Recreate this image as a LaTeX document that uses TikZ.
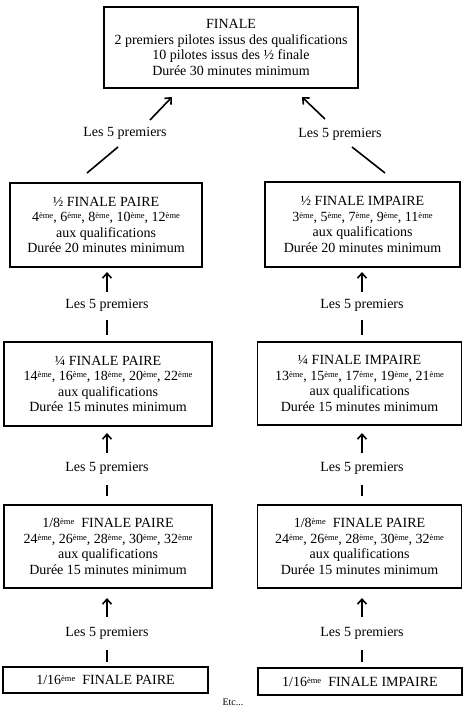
\documentclass[tikz,border=0pt]{standalone}
\usepackage{fontspec}
\setmainfont{Liberation Serif}
\usetikzlibrary{arrows.meta}
\newcommand{\eme}{\raisebox{0.45ex}{\fontsize{8.5}{8.5}\selectfont ème}}
\begin{document}
\begin{tikzpicture}[x=1pt,y=-1pt,
  box/.style={draw,line width=1.8pt,align=center,inner sep=0pt,font=\fontsize{14}{15.5}\selectfont},
  lab/.style={inner sep=0pt,font=\fontsize{14}{15.5}\selectfont},
  con/.style={line width=1.6pt},
  arr/.style={line width=1.6pt,-{Straight Barb[length=5pt,width=9pt,line width=1.6pt]}}]
\useasboundingbox (0,0) rectangle (463,710);
% boxes
\node[box,minimum width=254pt,minimum height=81pt] (fin) at (231,47.5) {FINALE\\2 premiers pilotes issus des qualifications\\10 pilotes issus des ½ finale\\Durée 30 minutes minimum};
\node[box,minimum width=192pt,minimum height=84pt] (hp) at (106,225) {½ FINALE PAIRE\\4\eme, 6\eme, 8\eme, 10\eme, 12\eme\\aux qualifications\\Durée 20 minutes minimum};
\node[box,minimum width=195pt,minimum height=85pt] (hi) at (362.5,224.5) {½ FINALE IMPAIRE\\3\eme, 5\eme, 7\eme, 9\eme, 11\eme\\aux qualifications\\Durée 20 minutes minimum};
\node[box,minimum width=208pt,minimum height=84pt] (qp) at (108,384) {¼ FINALE PAIRE\\14\eme, 16\eme, 18\eme, 20\eme, 22\eme\\aux qualifications\\Durée 15 minutes minimum};
\node[box,minimum width=204pt,minimum height=83pt] (qi) at (359.5,383.5) {¼ FINALE IMPAIRE\\13\eme, 15\eme, 17\eme, 19\eme, 21\eme\\aux qualifications\\Durée 15 minutes minimum};
\node[box,minimum width=208pt,minimum height=83pt] (ep) at (108,546.5) {1/8\eme{}\ \ FINALE PAIRE\\24\eme, 26\eme, 28\eme, 30\eme, 32\eme\\aux qualifications\\Durée 15 minutes minimum};
\node[box,minimum width=204pt,minimum height=83pt] (ei) at (359.5,546.5) {1/8\eme{}\ \ FINALE PAIRE\\24\eme, 26\eme, 28\eme, 30\eme, 32\eme\\aux qualifications\\Durée 15 minutes minimum};
\node[box,minimum width=205pt,minimum height=26pt] (sp) at (105.5,680) {1/16\eme{}\ \ FINALE PAIRE};
\node[box,minimum width=204pt,minimum height=27pt] (si) at (360,681.5) {1/16\eme{}\ \ FINALE IMPAIRE};
% labels
\node[lab] (l1) at (125,133) {Les 5 premiers};
\node[lab] (r1) at (340,134) {Les 5 premiers};
\node[lab] (l2) at (107,305) {Les 5 premiers};
\node[lab] (r2) at (362,305) {Les 5 premiers};
\node[lab] (l3) at (107,468) {Les 5 premiers};
\node[lab] (r3) at (362,468) {Les 5 premiers};
\node[lab] (l4) at (107,633) {Les 5 premiers};
\node[lab] (r4) at (362,633) {Les 5 premiers};
\node[lab,font=\fontsize{10}{12}\selectfont] (etc) at (233,702) {Etc...};
% connector end points
\coordinate (a1) at (87,173); \coordinate (a2) at (118,147);
\coordinate (a3) at (150,120); \coordinate (a4) at (172,97);
\coordinate (b1) at (385,173); \coordinate (b2) at (352,147);
\coordinate (b3) at (325,119); \coordinate (b4) at (302,97);
% top connectors
\draw[con] (a1) -- (a2);
\draw[arr] (a3) -- (a4);
\draw[con] (b1) -- (b2);
\draw[arr] (b3) -- (b4);
% vertical connectors
\foreach \x/\n in {107/l,362/r}{
  \draw[arr] (\x,292) -- (\x,272);
  \draw[con] (\x,320) -- (\x,335);
  \draw[arr] (\x,453) -- (\x,433);
  \draw[con] (\x,485) -- (\x,496);
  \draw[arr] (\x,617) -- (\x,598);
  \draw[con] (\x,650) -- (\x,662);
}
\end{tikzpicture}
\end{document}
